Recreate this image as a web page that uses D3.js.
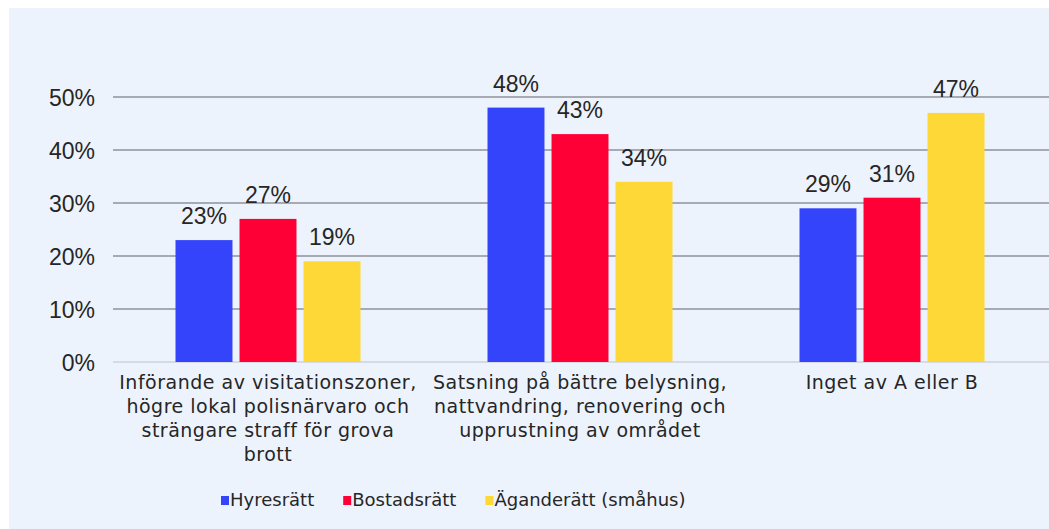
<!DOCTYPE html>
<html>
<head>
<meta charset="utf-8">
<script src="https://cdn.jsdelivr.net/npm/d3@7"></script>
<style>
  body { margin: 0; background: #fff; }
  svg { display: block; }
</style>
</head>
<body>
<div id="chart"></div>
<script>
var categories = [
    ["Införande av visitationszoner,", "högre lokal polisnärvaro och", "strängare straff för grova", "brott"],
    ["Satsning på bättre belysning,", "nattvandring, renovering och", "upprustning av området"],
    ["Inget av A eller B"]
];
var seriesNames = ["Hyresrätt", "Bostadsrätt", "Äganderätt (småhus)"];
var hyresratt = [23, 48, 29];
var bostadsratt = [27, 43, 31];
var aganderatt = [19, 34, 47];
var yTicks = [0, 10, 20, 30, 40, 50];

var colors = ["#3444fb", "#fe0036", "#fed836"];
var seriesValues = [hyresratt, bostadsratt, aganderatt];

var width = 1049, height = 529;

var svg = d3.select("#chart").append("svg")
    .attr("width", width)
    .attr("height", height);

// panel background
svg.append("rect")
    .attr("x", 9).attr("y", 8)
    .attr("width", width - 9).attr("height", height - 8)
    .attr("fill", "#edf3fc");

var xScale = d3.scaleBand().domain(d3.range(categories.length)).range([112, 1048]);
var xInner = d3.scaleBand().domain(d3.range(seriesNames.length))
    .range([63.5, 248.5]).paddingInner(0.11);
var yScale = d3.scaleLinear().domain([0, 50]).range([362, 97]);

// gridlines
svg.selectAll(".grid")
    .data(yTicks)
    .enter()
    .append("line")
    .attr("x1", 113).attr("x2", 1049)
    .attr("y1", function(d){ return yScale(d); })
    .attr("y2", function(d){ return yScale(d); })
    .attr("stroke", function(d){ return d === 0 ? "#cfd3d9" : "#8f9297"; })
    .attr("stroke-width", 1.3);

// y axis labels
var yAxis = d3.axisLeft(yScale).tickValues(yTicks)
    .tickFormat(function(d){ return d + "%"; })
    .tickSize(0).tickPadding(0);
var yG = svg.append("g").attr("transform", "translate(95,0)").call(yAxis);
yG.select(".domain").remove();
yG.selectAll("text")
    .attr("font-family", "'Liberation Sans', Arial, sans-serif")
    .attr("font-size", 23)
    .attr("fill", "#262626")
    .attr("dy", "0.35em");

// bars
var groups = svg.selectAll(".grp")
    .data(categories)
    .enter()
    .append("g")
    .attr("transform", function(d, i){ return "translate(" + xScale(i) + ",0)"; });

groups.each(function(cat, ci){
    var g = d3.select(this);
    var vals = seriesValues.map(function(s){ return s[ci]; });
    g.selectAll("rect")
        .data(vals)
        .enter()
        .append("rect")
        .attr("x", function(d, i){ return xInner(i); })
        .attr("y", function(d){ return yScale(d); })
        .attr("width", xInner.bandwidth())
        .attr("height", function(d){ return yScale(0) - yScale(d); })
        .attr("fill", function(d, i){ return colors[i]; });

    g.selectAll(".lbl")
        .data(vals)
        .enter()
        .append("text")
        .text(function(d){ return d + "%"; })
        .attr("x", function(d, i){ return xInner(i) + xInner.bandwidth() / 2; })
        .attr("y", function(d){ return yScale(d) - 16; })
        .attr("text-anchor", "middle")
        .attr("font-family", "'Liberation Sans', Arial, sans-serif")
        .attr("font-size", 23)
        .attr("fill", "#262626");

    var t = g.append("text")
        .attr("text-anchor", "middle")
        .attr("font-family", "'DejaVu Sans', sans-serif")
        .attr("font-size", 19)
        .attr("letter-spacing", 0.5)
        .attr("fill", "#262626");
    t.selectAll("tspan")
        .data(cat)
        .enter()
        .append("tspan")
        .text(function(d){ return d; })
        .attr("x", xScale.bandwidth() / 2)
        .attr("y", function(d, i){ return 389 + i * 24; });
});

// legend
var legend = svg.append("g").attr("transform", "translate(221,506)");
var lx = 0;
seriesNames.forEach(function(name, i){
    var item = legend.append("g").attr("transform", "translate(" + lx + ",0)");
    item.append("rect")
        .attr("x", 0).attr("y", -10)
        .attr("width", 8).attr("height", 9)
        .attr("fill", colors[i]);
    var txt = item.append("text")
        .text(name)
        .attr("x", 9)
        .attr("font-family", "'DejaVu Sans', sans-serif")
        .attr("font-size", 18)
        .attr("fill", "#262626");
    lx += 9 + txt.node().getComputedTextLength() + 29;
});
</script>
</body>
</html>
